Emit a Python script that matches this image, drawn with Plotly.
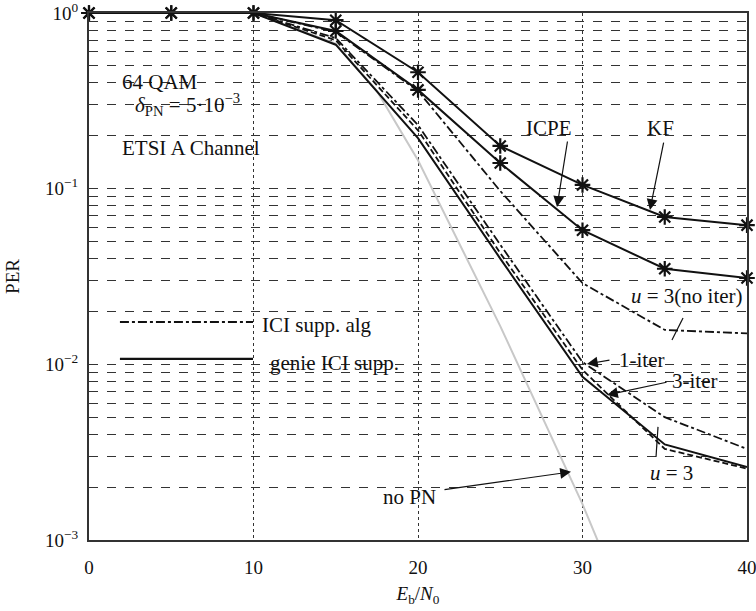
import plotly.graph_objects as go
import math

snr = [0, 5, 10, 15, 20, 25, 30, 35, 40]
kf = [1, 1, 1, 0.91, 0.46, 0.175, 0.105, 0.069, 0.062]
icpe = [1, 1, 1, 0.79, 0.365, 0.14, 0.058, 0.035, 0.031]
no_iter = [1, 1, 1, 0.78, 0.36, 0.097, 0.029, 0.0157, 0.015]
iter1 = [1, 1, 1, 0.72, 0.23, 0.048, 0.0103, 0.005, 0.0033]
iter3 = [1, 1, 1, 0.70, 0.215, 0.043, 0.0093, 0.0033, 0.00255]
genie = [1, 1, 1, 0.66, 0.194, 0.040, 0.0085, 0.0035, 0.0026]
nopn_x = [10, 15, 17.5, 20, 25, 30, 35]
nopn_y = [1, 0.67, 0.36, 0.145, 0.0165, 0.0016, 0.00012]

ytick_vals = [1, 0.1, 0.01, 0.001]
ytick_text = ["10<sup>0</sup>", "10<sup>\u22121</sup>", "10<sup>\u22122</sup>", "10<sup>\u22123</sup>"]
xtick_vals = [0, 10, 20, 30, 40]

FONT = "Liberation Serif, Times New Roman, serif"
BLACK = "#111111"
ASZ = 21

fig = go.Figure()

fig.add_trace(go.Scatter(x=nopn_x, y=nopn_y, mode="lines",
                         line=dict(color="#c8c8c8", width=2), showlegend=False))
fig.add_trace(go.Scatter(x=snr, y=genie, mode="lines",
                         line=dict(color=BLACK, width=2), showlegend=False))
fig.add_trace(go.Scatter(x=snr, y=iter3, mode="lines",
                         line=dict(color=BLACK, width=1.8, dash="6px,3px"), showlegend=False))
fig.add_trace(go.Scatter(x=snr, y=iter1, mode="lines",
                         line=dict(color=BLACK, width=1.8, dash="dashdot"), showlegend=False))
fig.add_trace(go.Scatter(x=snr, y=no_iter, mode="lines",
                         line=dict(color=BLACK, width=1.8, dash="dashdot"), showlegend=False))
for ys in (icpe, kf):
    fig.add_trace(go.Scatter(x=snr, y=ys, mode="lines+markers",
                             line=dict(color=BLACK, width=2),
                             marker=dict(symbol="asterisk-open", size=13,
                                         line=dict(color=BLACK, width=2.2)),
                             cliponaxis=False, showlegend=False))

def ly(v):
    return math.log10(v)

annos = []
def txt(x, y, s, xanchor="left", size=ASZ):
    annos.append(dict(x=x, y=ly(y), xref="x", yref="y", text=s, showarrow=False,
                      xanchor=xanchor, yanchor="middle",
                      font=dict(family=FONT, size=size, color=BLACK)))

def arrow(x0, y0, x1, y1):
    annos.append(dict(x=x1, y=ly(y1), ax=x0, ay=ly(y0), xref="x", yref="y",
                      axref="x", ayref="y", text="", showarrow=True,
                      arrowhead=2, arrowsize=1.8, arrowwidth=1.2, arrowcolor=BLACK))

txt(1.88, 10 ** -0.395, "64 QAM")
txt(2.7, 10 ** -0.52, "<i>δ</i><sub>PN</sub> = 5·10<sup>\u22123</sup>")
txt(1.88, 10 ** -0.768, "ETSI A Channel")
txt(27.96, 10 ** -0.655, "ICPE", "center")
arrow(29.1, 10 ** -0.723, 28.45, 10 ** -1.104)
txt(34.77, 10 ** -0.655, "KF", "center")
arrow(34.95, 10 ** -0.729, 34.1, 10 ** -1.121)
txt(39.9, 10 ** -1.611, "<i>u</i> = 3(no iter)", "right")
txt(32.1, 10 ** -1.975, "1-iter")
arrow(31.73, 10 ** -1.975, 30.27, 10 ** -1.998)
txt(35.32, 10 ** -2.094, "3-iter")
arrow(35.2, 10 ** -2.1, 31.49, 10 ** -2.174)
txt(35.44, 10 ** -2.618, "<i>u</i> = 3", "center")
txt(19.51, 10 ** -2.755, "no PN", "center")
arrow(21.52, 10 ** -2.715, 29.3, 10 ** -2.612)
txt(10.4, 10 ** -1.775, "ICI supp. alg")
txt(10.9, 10 ** -1.99, "genie ICI supp.")

def seg(x0, l0, x1, l1, **line):
    return dict(type="line", xref="x", yref="y", x0=x0, y0=10 ** l0, x1=x1, y1=10 ** l1,
                line=line)

shapes = [
    seg(35.44, -1.861, 36.11, -1.736, color=BLACK, width=1.2),
    seg(34.59, -2.356, 34.47, -2.527, color=BLACK, width=1.2),
    seg(1.88, -1.759, 9.97, -1.759, color=BLACK, width=1.8, dash="dashdot"),
    seg(1.88, -1.969, 9.97, -1.969, color=BLACK, width=2.2),
]

fig.update_layout(
    width=756, height=611,
    margin=dict(l=89, r=9, t=13, b=71, autoexpand=False),
    paper_bgcolor="white", plot_bgcolor="white",
    font=dict(family=FONT, size=19, color=BLACK),
    annotations=annos, shapes=shapes,
    xaxis=dict(range=[0, 40], tickvals=xtick_vals, ticks="", automargin=False,
               ticklabeloverflow="allow", ticklabelstandoff=9,
               showgrid=True, griddash="dot", gridcolor="#333", gridwidth=1,
               showline=True, mirror=True, linecolor="#333", linewidth=2,
               zeroline=False, tickfont=dict(size=19),
               title=dict(text="<i>E</i><sub>b</sub>/<i>N</i><sub>0</sub>", standoff=10,
                          font=dict(size=19))),
    yaxis=dict(type="log", range=[-3, 0], tickvals=ytick_vals, ticktext=ytick_text,
               ticks="", automargin=False, ticklabeloverflow="allow",
               ticklabelstandoff=5,
               showgrid=True, griddash="dash", gridcolor="#333", gridwidth=0.8,
               minor=dict(dtick="D1", showgrid=True, griddash="dash",
                          gridcolor="#333", gridwidth=0.8, ticks=""),
               showline=True, mirror=True, linecolor="#333", linewidth=2,
               tickfont=dict(size=19),
               title=dict(text="PER", standoff=20, font=dict(size=19))),
)

fig.write_html("out.html")
